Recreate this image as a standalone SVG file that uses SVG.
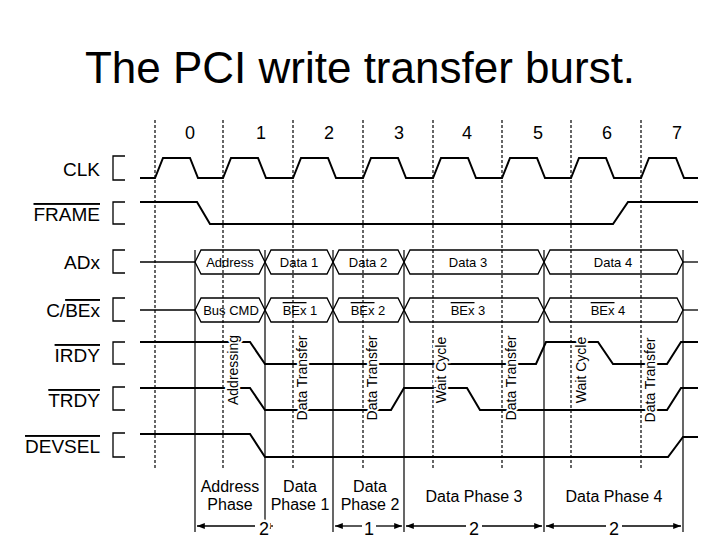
<svg xmlns="http://www.w3.org/2000/svg" width="720" height="540" viewBox="0 0 720 540">
<style>
text{font-family:"Liberation Sans",Arial,sans-serif;fill:#000}
.sig{fill:none;stroke:#000;stroke-width:2}
.thin{fill:none;stroke:#000;stroke-width:1.3}
.dash{stroke:#000;stroke-width:1.2;stroke-dasharray:3,2}
.ph{stroke:#000;stroke-width:1.2}
.lbl{font-size:19px;text-anchor:end}
.num{font-size:18px;text-anchor:middle}
.bus{font-size:13px;text-anchor:middle}
.vl{font-size:14px;text-anchor:middle;stroke:#fff;stroke-width:4;paint-order:stroke}
.pl{font-size:16px;text-anchor:middle}
.sn{font-size:18px;text-anchor:middle;stroke:#fff;stroke-width:5;paint-order:stroke}
.ol{text-decoration:overline}
</style>
<defs>
<marker id="ah" viewBox="0 0 10 10" refX="10" refY="5" markerWidth="8" markerHeight="6" orient="auto-start-reverse"><path d="M0,1 L10,5 L0,9 Z" fill="#000"/></marker>
</defs>
<rect width="720" height="540" fill="#fff"/>
<text x="360" y="83" font-size="44" text-anchor="middle">The PCI write transfer burst.</text>

<g id="grid">
<line class="dash" x1="155" y1="120" x2="155" y2="470"/>
<line class="dash" x1="223" y1="120" x2="223" y2="470"/>
<line class="dash" x1="293" y1="120" x2="293" y2="470"/>
<line class="dash" x1="363" y1="120" x2="363" y2="470"/>
<line class="dash" x1="433" y1="120" x2="433" y2="470"/>
<line class="dash" x1="502" y1="120" x2="502" y2="470"/>
<line class="dash" x1="571" y1="120" x2="571" y2="470"/>
<line class="dash" x1="641" y1="120" x2="641" y2="470"/>
<line class="ph" x1="195" y1="250" x2="195" y2="532"/>
<line class="ph" x1="265" y1="250" x2="265" y2="532"/>
<line class="ph" x1="333" y1="250" x2="333" y2="532"/>
<line class="ph" x1="404" y1="250" x2="404" y2="532"/>
<line class="ph" x1="544" y1="250" x2="544" y2="532"/>
<line class="ph" x1="683" y1="250" x2="683" y2="532"/>
</g>

<g id="cycles">
<text class="num" x="190" y="139">0</text><text class="num" x="261" y="139">1</text>
<text class="num" x="329" y="139">2</text><text class="num" x="399" y="139">3</text>
<text class="num" x="467" y="139">4</text><text class="num" x="538" y="139">5</text>
<text class="num" x="607" y="139">6</text><text class="num" x="677" y="139">7</text>
</g>

<g id="labels">
<text class="lbl" x="100" y="176">CLK</text>
<text class="lbl ol" x="100" y="221">FRAME</text>
<text class="lbl" x="100" y="269">ADx</text>
<text class="lbl" x="100" y="317">C/<tspan class="ol">BEx</tspan></text>
<text class="lbl ol" x="100" y="362">IRDY</text>
<text class="lbl ol" x="100" y="407">TRDY</text>
<text class="lbl ol" x="100" y="453">DEVSEL</text>
<path class="thin" d="M125,156 H113 V180 H125 M125,202 H113 V224 H125 M125,250 H113 V273 H125 M125,298 H113 V321 H125 M125,342 H113 V364 H125 M125,387 H113 V410 H125 M125,433 H113 V457 H125"/>
</g>

<g id="signals">
<path id="clk" class="sig" d="M140,178 H155 L163,158 H190 L198,178 H223 L231,158 H258 L266,178 H293 L301,158 H328 L336,178 H363 L371,158 H398 L406,178 H433 L441,158 H468 L476,178 H502 L510,158 H537 L545,178 H571 L579,158 H606 L614,178 H641 L649,158 H676 L684,178 H698"/>
<path id="frame" class="sig" d="M140,202 H197 L210,224 H613 L628,202 H698"/>
<g id="adx" class="thin">
<path d="M140,262 H195"/>
<path d="M195,262 L201,250 H259 L265,262 L271,250 H327 L333,262 L339,250 H398 L404,262 L410,250 H538 L544,262 L550,250 H677 L683,262 L677,274 H550 L544,262 L538,274 H410 L404,262 L398,274 H339 L333,262 L327,274 H271 L265,262 L259,274 H201 Z"/>
<path d="M683,262 H698"/>
</g>
<g id="cbe" class="thin">
<path d="M140,310 H195"/>
<path d="M195,310 L201,298 H259 L265,310 L271,298 H327 L333,310 L339,298 H398 L404,310 L410,298 H538 L544,310 L550,298 H677 L683,310 L677,322 H550 L544,310 L538,322 H410 L404,310 L398,322 H339 L333,310 L327,322 H271 L265,310 L259,322 H201 Z"/>
<path d="M683,310 H698"/>
</g>
<text class="bus" x="230" y="267">Address</text>
<text class="bus" x="299" y="267">Data 1</text>
<text class="bus" x="368" y="267">Data 2</text>
<text class="bus" x="468" y="267">Data 3</text>
<text class="bus" x="613" y="267">Data 4</text>
<text class="bus" x="231" y="315">Bus CMD</text>
<text class="bus" x="300" y="315"><tspan class="ol">BEx</tspan> 1</text>
<text class="bus" x="368" y="315"><tspan class="ol">BEx</tspan> 2</text>
<text class="bus" x="468" y="315"><tspan class="ol">BEx</tspan> 3</text>
<text class="bus" x="608" y="315"><tspan class="ol">BEx</tspan> 4</text>
<path id="irdy" class="sig" d="M140,342 H250 L265,364 H536 L546,342 H598 L613,364 H667 L681,342 H698"/>
<path id="trdy" class="sig" d="M140,388 H250 L265,410 H391 L404,388 H467 L480,410 H667 L681,388 H698"/>
<path id="devsel" class="sig" d="M140,434 H250 L265,457 H668 L683,437 H698"/>
</g>

<g id="vlabels">
<text class="vl" transform="translate(238,370) rotate(-90)">Addressing</text>
<text class="vl" transform="translate(307,378) rotate(-90)">Data Transfer</text>
<text class="vl" transform="translate(377,378) rotate(-90)">Data Transfer</text>
<text class="vl" transform="translate(446,370) rotate(-90)">Wait Cycle</text>
<text class="vl" transform="translate(516,378) rotate(-90)">Data Transfer</text>
<text class="vl" transform="translate(586,370) rotate(-90)">Wait Cycle</text>
<text class="vl" transform="translate(655,380) rotate(-90)">Data Transfer</text>
</g>

<g id="phases">
<text class="pl" x="230" y="492">Address</text><text class="pl" x="230" y="510">Phase</text>
<text class="pl" x="300" y="492">Data</text><text class="pl" x="300" y="510">Phase 1</text>
<text class="pl" x="370" y="492">Data</text><text class="pl" x="370" y="510">Phase 2</text>
<text class="pl" x="474" y="502">Data Phase 3</text>
<text class="pl" x="614" y="502">Data Phase 4</text>
</g>

<g id="spans" class="thin">
<line x1="255" y1="526" x2="197" y2="526" marker-end="url(#ah)"/>
<line x1="273" y1="526" x2="263" y2="526" marker-end="url(#ah)"/>
<line x1="362" y1="526" x2="335" y2="526" marker-end="url(#ah)"/>
<line x1="376" y1="526" x2="402" y2="526" marker-end="url(#ah)"/>
<line x1="466" y1="526" x2="406" y2="526" marker-end="url(#ah)"/>
<line x1="482" y1="526" x2="542" y2="526" marker-end="url(#ah)"/>
<line x1="606" y1="526" x2="546" y2="526" marker-end="url(#ah)"/>
<line x1="622" y1="526" x2="681" y2="526" marker-end="url(#ah)"/>
</g>
<g id="spannums">
<text class="sn" x="264" y="535">2</text>
<text class="sn" x="369" y="535">1</text>
<text class="sn" x="474" y="535">2</text>
<text class="sn" x="614" y="535">2</text>
</g>
</svg>
